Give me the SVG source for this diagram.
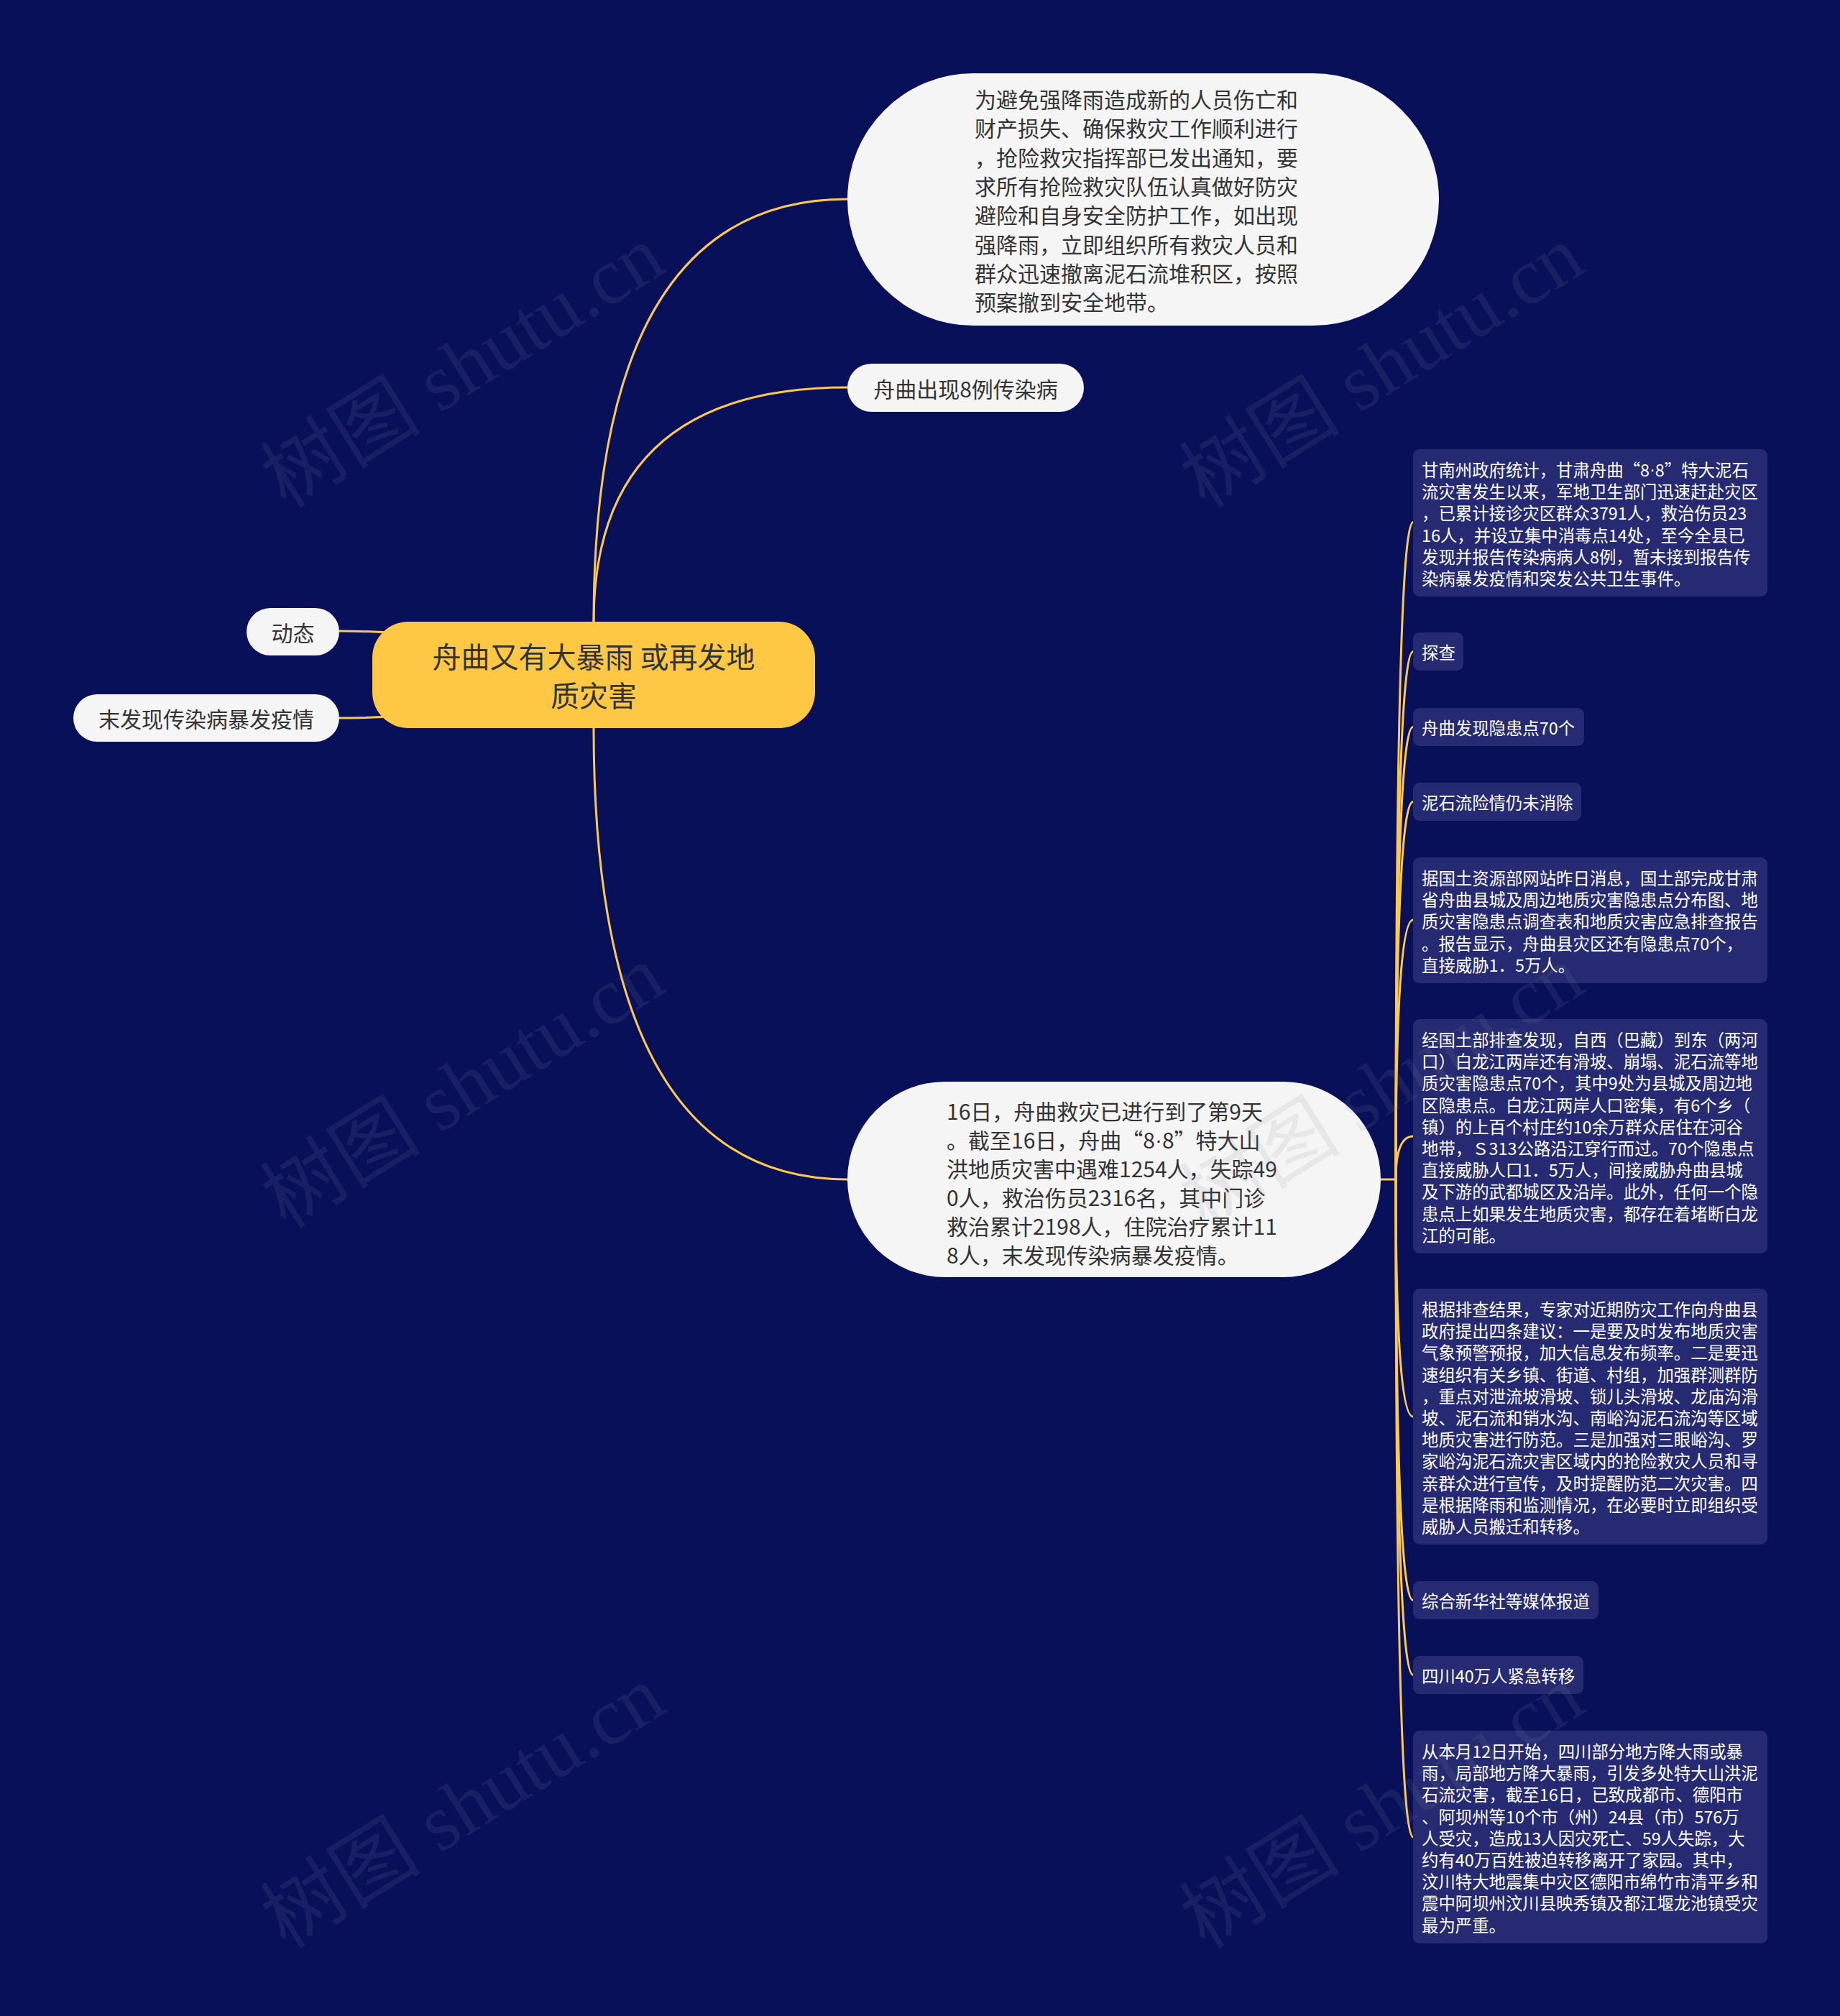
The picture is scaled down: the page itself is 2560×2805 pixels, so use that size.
<svg xmlns="http://www.w3.org/2000/svg" width="2560" height="2805" viewBox="0 0 2560 2805">
<style>
.cjk{font-family:"Noto Sans CJK SC","Noto Sans",sans-serif}
.lat{font-family:"Liberation Sans",sans-serif}
.conn{fill:none;stroke:#fcc94d;stroke-width:3;stroke-linecap:round}
.wnode{fill:#f5f5f5}
.wtext{fill:#333333;font-size:30px}
.box{fill:#252a72}
.btext{fill:#ffffff;font-size:23.4px}
.wm{font-family:"Liberation Serif","Noto Sans CJK SC",serif;font-size:112px;fill:#8a8a9a;opacity:0.12}
</style>
<rect x="0" y="0" width="2560" height="2805" fill="#08105a"/>
<g id="connectors">
<path class="conn" d="M826 866 Q826 277 1179 277"/>
<path class="conn" d="M826 866 Q826 539 1179 539"/>
<path class="conn" d="M826 1013 Q826 1641 1179 1641"/>
<path class="conn" d="M472 878 Q540 878 600 886"/>
<path class="conn" d="M472 999 Q540 999 600 992"/>
<path class="conn" d="M1900 1641 L1942 1641"/>
<path class="conn" d="M1942 1641 Q1942 726.5 1966 726.5"/>
<path class="conn" d="M1942 1641 Q1942 906.5 1966 906.5"/>
<path class="conn" d="M1942 1641 Q1942 1011.5 1966 1011.5"/>
<path class="conn" d="M1942 1641 Q1942 1115.5 1966 1115.5"/>
<path class="conn" d="M1942 1641 Q1942 1280 1966 1280"/>
<path class="conn" d="M1942 1641 Q1942 1581 1966 1581"/>
<path class="conn" d="M1942 1641 Q1942 1971 1966 1971"/>
<path class="conn" d="M1942 1641 Q1942 2226.5 1966 2226.5"/>
<path class="conn" d="M1942 1641 Q1942 2330.5 1966 2330.5"/>
<path class="conn" d="M1942 1641 Q1942 2556 1966 2556"/>
</g>
<g id="root">
<rect x="518" y="865" width="616" height="148" rx="50" fill="#ffc844"/>
<text class="cjk" x="826" y="912" font-size="40" fill="#333333" text-anchor="middle" dominant-baseline="central">舟曲又有大暴雨 或再发地</text>
<text class="cjk" x="826" y="966" font-size="40" fill="#333333" text-anchor="middle" dominant-baseline="central">质灾害</text>
</g>
<g id="node-dongtai">
<rect class="wnode" x="343" y="846" width="129" height="66" rx="33"/>
<text class="cjk wtext" x="407.5" y="879" text-anchor="middle" dominant-baseline="central">动态</text>
</g>
<g id="node-mofaxian">
<rect class="wnode" x="102" y="966" width="370" height="66" rx="33"/>
<text class="cjk wtext" x="287" y="999" text-anchor="middle" dominant-baseline="central">末发现传染病暴发疫情</text>
</g>
<g id="node-a">
<rect class="wnode" x="1179" y="102" width="823" height="351" rx="175.5"/>
<text class="cjk wtext" dominant-baseline="central">
<tspan x="1356" y="137">为避免强降雨造成新的人员伤亡和</tspan>
<tspan x="1356" y="177.3">财产损失、确保救灾工作顺利进行</tspan>
<tspan x="1356" y="217.6">，抢险救灾指挥部已发出通知，要</tspan>
<tspan x="1356" y="257.9">求所有抢险救灾队伍认真做好防灾</tspan>
<tspan x="1356" y="298.2">避险和自身安全防护工作，如出现</tspan>
<tspan x="1356" y="338.5">强降雨，立即组织所有救灾人员和</tspan>
<tspan x="1356" y="378.8">群众迅速撤离泥石流堆积区，按照</tspan>
<tspan x="1356" y="419.1">预案撤到安全地带。</tspan>
</text>
</g>
<g id="node-b">
<rect class="wnode" x="1179" y="506" width="329" height="67" rx="33.5"/>
<text class="cjk wtext" x="1343.5" y="539.5" text-anchor="middle" dominant-baseline="central">舟曲出现8例传染病</text>
</g>
<g id="node-c">
<rect class="wnode" x="1179" y="1505" width="742" height="272" rx="136"/>
<text class="cjk wtext" dominant-baseline="central">
<tspan x="1317" y="1545">16日，舟曲救灾已进行到了第9天</tspan>
<tspan x="1317" y="1585">。截至16日，舟曲“8<tspan class="lat">·</tspan>8”特大山</tspan>
<tspan x="1317" y="1625">洪地质灾害中遇难1254人，失踪49</tspan>
<tspan x="1317" y="1665">0人，救治伤员2316名，其中门诊</tspan>
<tspan x="1317" y="1705">救治累计2198人，住院治疗累计11</tspan>
<tspan x="1317" y="1745">8人，末发现传染病暴发疫情。</tspan>
</text>
</g>
<g id="child-1">
<rect class="box" x="1966" y="625" width="493" height="205" rx="9"/>
<text class="cjk btext" dominant-baseline="central">
<tspan x="1978" y="653">甘南州政府统计，甘肃舟曲“8<tspan class="lat">·</tspan>8”特大泥石</tspan>
<tspan x="1978" y="683.2">流灾害发生以来，军地卫生部门迅速赶赴灾区</tspan>
<tspan x="1978" y="713.4">，已累计接诊灾区群众3791人，救治伤员23</tspan>
<tspan x="1978" y="743.6">16人，并设立集中消毒点14处，至今全县已</tspan>
<tspan x="1978" y="773.8">发现并报告传染病病人8例，暂未接到报告传</tspan>
<tspan x="1978" y="804">染病暴发疫情和突发公共卫生事件。</tspan>
</text>
</g>
<g id="child-2">
<rect class="box" x="1966" y="880" width="70" height="53" rx="9"/>
<text class="cjk btext" x="1978" y="906.5" dominant-baseline="central">探查</text>
</g>
<g id="child-3">
<rect class="box" x="1966" y="985" width="238" height="53" rx="9"/>
<text class="cjk btext" x="1978" y="1011.5" dominant-baseline="central">舟曲发现隐患点70个</text>
</g>
<g id="child-4">
<rect class="box" x="1966" y="1089" width="234" height="53" rx="9"/>
<text class="cjk btext" x="1978" y="1115.5" dominant-baseline="central">泥石流险情仍未消除</text>
</g>
<g id="child-5">
<rect class="box" x="1966" y="1193" width="493" height="175" rx="9"/>
<text class="cjk btext" dominant-baseline="central">
<tspan x="1978" y="1221">据国土资源部网站昨日消息，国土部完成甘肃</tspan>
<tspan x="1978" y="1251.2">省舟曲县城及周边地质灾害隐患点分布图、地</tspan>
<tspan x="1978" y="1281.4">质灾害隐患点调查表和地质灾害应急排查报告</tspan>
<tspan x="1978" y="1311.6">。报告显示，舟曲县灾区还有隐患点70个，</tspan>
<tspan x="1978" y="1341.8">直接威胁1．5万人。</tspan>
</text>
</g>
<g id="child-6">
<rect class="box" x="1966" y="1418" width="493" height="326" rx="9"/>
<text class="cjk btext" dominant-baseline="central">
<tspan x="1978" y="1446">经国土部排查发现，自西（巴藏）到东（两河</tspan>
<tspan x="1978" y="1476.2">口）白龙江两岸还有滑坡、崩塌、泥石流等地</tspan>
<tspan x="1978" y="1506.4">质灾害隐患点70个，其中9处为县城及周边地</tspan>
<tspan x="1978" y="1536.6">区隐患点。白龙江两岸人口密集，有6个乡（</tspan>
<tspan x="1978" y="1566.8">镇）的上百个村庄约10余万群众居住在河谷</tspan>
<tspan x="1978" y="1597">地带，Ｓ313公路沿江穿行而过。70个隐患点</tspan>
<tspan x="1978" y="1627.2">直接威胁人口1．5万人，间接威胁舟曲县城</tspan>
<tspan x="1978" y="1657.4">及下游的武都城区及沿岸。此外，任何一个隐</tspan>
<tspan x="1978" y="1687.6">患点上如果发生地质灾害，都存在着堵断白龙</tspan>
<tspan x="1978" y="1717.8">江的可能。</tspan>
</text>
</g>
<g id="child-7">
<rect class="box" x="1966" y="1793" width="493" height="356" rx="9"/>
<text class="cjk btext" dominant-baseline="central">
<tspan x="1978" y="1821">根据排查结果，专家对近期防灾工作向舟曲县</tspan>
<tspan x="1978" y="1851.2">政府提出四条建议：一是要及时发布地质灾害</tspan>
<tspan x="1978" y="1881.4">气象预警预报，加大信息发布频率。二是要迅</tspan>
<tspan x="1978" y="1911.6">速组织有关乡镇、街道、村组，加强群测群防</tspan>
<tspan x="1978" y="1941.8">，重点对泄流坡滑坡、锁儿头滑坡、龙庙沟滑</tspan>
<tspan x="1978" y="1972">坡、泥石流和销水沟、南峪沟泥石流沟等区域</tspan>
<tspan x="1978" y="2002.2">地质灾害进行防范。三是加强对三眼峪沟、罗</tspan>
<tspan x="1978" y="2032.4">家峪沟泥石流灾害区域内的抢险救灾人员和寻</tspan>
<tspan x="1978" y="2062.6">亲群众进行宣传，及时提醒防范二次灾害。四</tspan>
<tspan x="1978" y="2092.8">是根据降雨和监测情况，在必要时立即组织受</tspan>
<tspan x="1978" y="2123">威胁人员搬迁和转移。</tspan>
</text>
</g>
<g id="child-8">
<rect class="box" x="1966" y="2200" width="258" height="53" rx="9"/>
<text class="cjk btext" x="1978" y="2226.5" dominant-baseline="central">综合新华社等媒体报道</text>
</g>
<g id="child-9">
<rect class="box" x="1966" y="2304" width="237" height="53" rx="9"/>
<text class="cjk btext" x="1978" y="2330.5" dominant-baseline="central">四川40万人紧急转移</text>
</g>
<g id="child-10">
<rect class="box" x="1966" y="2408" width="493" height="296" rx="9"/>
<text class="cjk btext" dominant-baseline="central">
<tspan x="1978" y="2436">从本月12日开始，四川部分地方降大雨或暴</tspan>
<tspan x="1978" y="2466.2">雨，局部地方降大暴雨，引发多处特大山洪泥</tspan>
<tspan x="1978" y="2496.4">石流灾害，截至16日，已致成都市、德阳市</tspan>
<tspan x="1978" y="2526.6">、阿坝州等10个市（州）24县（市）576万</tspan>
<tspan x="1978" y="2556.8">人受灾，造成13人因灾死亡、59人失踪，大</tspan>
<tspan x="1978" y="2587">约有40万百姓被迫转移离开了家园。其中，</tspan>
<tspan x="1978" y="2617.2">汶川特大地震集中灾区德阳市绵竹市清平乡和</tspan>
<tspan x="1978" y="2647.4">震中阿坝州汶川县映秀镇及都江堰龙池镇受灾</tspan>
<tspan x="1978" y="2677.6">最为严重。</tspan>
</text>
</g>
<g id="watermarks">
<text class="wm" x="644" y="510" text-anchor="middle" dominant-baseline="central" transform="rotate(-32 644 510)">树图 shutu.cn</text>
<text class="wm" x="1923" y="510" text-anchor="middle" dominant-baseline="central" transform="rotate(-32 1923 510)">树图 shutu.cn</text>
<text class="wm" x="644" y="1512" text-anchor="middle" dominant-baseline="central" transform="rotate(-32 644 1512)">树图 shutu.cn</text>
<text class="wm" x="1923" y="1512" text-anchor="middle" dominant-baseline="central" transform="rotate(-32 1923 1512)">树图 shutu.cn</text>
<text class="wm" x="644" y="2514" text-anchor="middle" dominant-baseline="central" transform="rotate(-32 644 2514)">树图 shutu.cn</text>
<text class="wm" x="1923" y="2514" text-anchor="middle" dominant-baseline="central" transform="rotate(-32 1923 2514)">树图 shutu.cn</text>
</g>
</svg>
